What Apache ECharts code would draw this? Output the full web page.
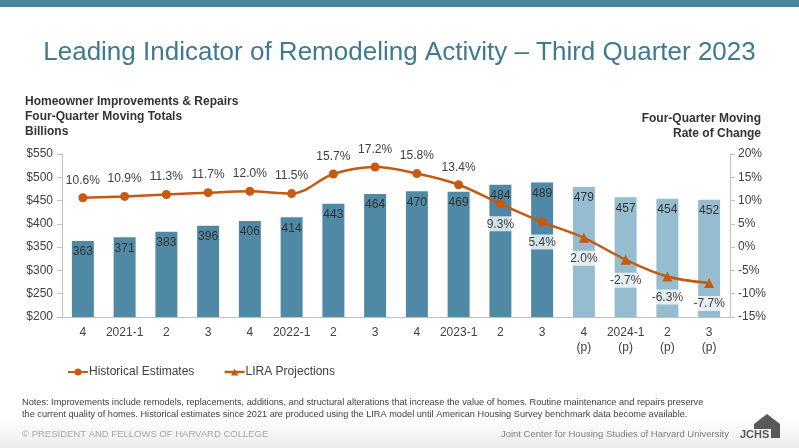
<!DOCTYPE html>
<html>
<head>
<meta charset="utf-8">
<title>Leading Indicator of Remodeling Activity</title>
<script src="https://cdn.jsdelivr.net/npm/echarts@6/dist/echarts.min.js"></script>
<style>
  html, body { margin: 0; padding: 0; background: #fff; }
  #chart { width: 799px; height: 448px; }
</style>
</head>
<body>
<div id="chart"></div>
<script>
// quarters on the x axis, (p) marks the projections
const quarters = ['4', '2021-1', '2', '3', '4', '2022-1', '2', '3', '4', '2023-1', '2', '3',
  '4\n(p)', '2024-1\n(p)', '2\n(p)', '3\n(p)'];
// four-quarter moving totals, billions
const spending = [363, 371, 383, 396, 406, 414, 443, 464, 470, 469, 484, 489, 479, 457, 454, 452];
// four-quarter moving rate of change, percent
const growth = [10.6, 10.9, 11.3, 11.7, 12.0, 11.5, 15.7, 17.2, 15.8, 13.4, 9.3, 5.4, 2.0, -2.7, -6.3, -7.7];
// first projected quarter
const firstProjection = 12;

const orange = '#c55a11';
const darkBlue = '#4f89a5';
const lightBlue = '#95bdcf';
const textColor = '#404040';
const narrow = '"Liberation Sans Narrow", "Arial Narrow", sans-serif';

const chart = echarts.init(document.getElementById('chart'));

// bars: historical in dark blue, projections lighter
const barData = spending.map((v, i) => ({
  value: v,
  itemStyle: { color: i < firstProjection ? darkBlue : lightBlue }
}));

// labels above the line early on, below it (on a white box) later
const pctLabel = (i) => i < 10
  ? { position: 'top', distance: 7 }
  : { position: 'bottom', distance: 8, backgroundColor: 'rgba(255,255,255,0.75)', padding: [2, 3, 1, 3] };

// one continuous smooth line carries the historical points
const histLine = growth.map((v, i) => ({
  value: v,
  symbolSize: i < firstProjection ? 9 : 0,
  label: Object.assign({ show: i < firstProjection }, pctLabel(i))
}));
// projections only add their triangle markers and labels
const projLine = growth.map((v, i) => i < firstProjection ? null : ({
  value: v,
  label: Object.assign({ show: true }, pctLabel(i))
}));

const option = {
  animation: false,
  backgroundColor: '#fff',
  textStyle: { fontFamily: 'Liberation Sans, Arial, sans-serif' },
  title: [
    {
      text: 'Leading Indicator of Remodeling Activity \u2013 Third Quarter 2023',
      left: 'center', top: 35,
      textStyle: { fontSize: 26, fontWeight: 'normal', color: '#3f7a92' }
    },
    {
      text: 'Homeowner Improvements & Repairs\nFour-Quarter Moving Totals\nBillions',
      left: 20, top: 89,
      textStyle: { fontSize: 12, fontWeight: 'bold', color: '#333', lineHeight: 15 }
    }
  ],
  legend: {
    left: 62, top: 361,
    itemWidth: 20, itemHeight: 9, itemGap: 29,
    textStyle: { fontSize: 12, color: textColor, padding: [0, 0, 0, -4] },
    data: [
      { name: 'Historical Estimates' },
      { name: 'LIRA Projections', lineStyle: { color: orange, width: 2.5, opacity: 1 } }
    ]
  },
  grid: { left: 62, right: 69, top: 154, bottom: 131, containLabel: false },
  xAxis: {
    type: 'category',
    data: quarters,
    axisLine: { onZero: false, lineStyle: { color: '#bfbfbf' } },
    axisTick: { lineStyle: { color: '#bfbfbf' }, length: 5 },
    axisLabel: { color: textColor, fontSize: 12, margin: 8, lineHeight: 15, interval: 0 }
  },
  yAxis: [
    {
      type: 'value', min: 200, max: 550, interval: 50,
      axisLine: { show: true, lineStyle: { color: '#bfbfbf' } },
      axisTick: { show: true, length: 5, lineStyle: { color: '#bfbfbf' } },
      splitLine: { show: false },
      axisLabel: { color: textColor, fontSize: 12, margin: 9, formatter: v => '$' + v }
    },
    {
      type: 'value', min: -15, max: 20, interval: 5,
      axisLine: { show: true, lineStyle: { color: '#bfbfbf' } },
      axisTick: { show: true, length: 5, lineStyle: { color: '#bfbfbf' } },
      splitLine: { show: false },
      axisLabel: { color: textColor, fontSize: 12, margin: 8, formatter: v => v + '%' }
    }
  ],
  series: [
    {
      name: 'Totals',
      type: 'bar',
      data: barData,
      barWidth: 22,
      label: { show: true, position: 'insideTop', distance: 5, color: '#333', fontSize: 12 },
      z: 1
    },
    {
      name: 'Historical Estimates',
      type: 'line',
      yAxisIndex: 1,
      smooth: 0.35,
      data: histLine,
      symbol: 'circle',
      symbolSize: 9,
      showAllSymbol: true,
      itemStyle: { color: orange },
      lineStyle: { color: orange, width: 2.5 },
      label: { color: textColor, fontSize: 12, formatter: p => p.value.toFixed(1) + '%' },
      z: 3
    },
    {
      name: 'LIRA Projections',
      type: 'line',
      yAxisIndex: 1,
      data: projLine,
      symbol: 'triangle',
      symbolSize: 10,
      showAllSymbol: true,
      itemStyle: { color: orange },
      lineStyle: { color: orange, width: 0, opacity: 0 },
      label: { color: textColor, fontSize: 12, formatter: p => p.value.toFixed(1) + '%' },
      z: 4
    }
  ],
  graphic: [
    { type: 'rect', shape: { x: 0, y: 0, width: 799, height: 7 }, style: { fill: '#4a86a1' }, silent: true },
    {
      type: 'rect', shape: { x: 0, y: 418, width: 799, height: 30 }, silent: true, z: -1,
      style: { fill: new echarts.graphic.LinearGradient(0, 0, 0, 1, [
        { offset: 0, color: '#ffffff' }, { offset: 1, color: '#ececec' }]) }
    },
    {
      type: 'text', x: 761, y: 111,
      style: {
        text: 'Four-Quarter Moving\nRate of Change',
        font: 'bold 12px "Liberation Sans", Arial, sans-serif',
        align: 'right', lineHeight: 15, fill: '#333'
      }
    },
    {
      type: 'text', x: 22, y: 397,
      style: {
        text: 'Notes: Improvements include remodels, replacements, additions, and structural alterations that increase the value of homes. Routine maintenance and repairs preserve\nthe current quality of homes. Historical estimates since 2021 are produced using the LIRA model until American Housing Survey benchmark data become available.',
        font: '9.2px ' + narrow, lineHeight: 11.5, fill: textColor
      }
    },
    {
      type: 'text', x: 22, y: 429,
      style: { text: '\u00a9 PRESIDENT AND FELLOWS OF HARVARD COLLEGE', font: '9.5px ' + narrow, fill: '#a6a6a6' }
    },
    {
      type: 'text', x: 729, y: 429,
      style: { text: 'Joint Center for Housing Studies of Harvard University', font: '9.5px ' + narrow, align: 'right', fill: '#7f7f7f' }
    },
    {
      // house shape of the logo, opened at the lower left for the letters
      type: 'polygon', silent: true,
      shape: { points: [[754, 424], [767, 414], [780, 424], [780, 438], [754, 438]] },
      style: { fill: '#595959' }
    },
    {
      type: 'rect', silent: true,
      shape: { x: 753, y: 429, width: 18, height: 10 },
      style: { fill: '#f4f4f4' }
    },
    {
      type: 'text', x: 740, y: 429,
      style: { text: 'JCHS', font: 'bold 11px "Liberation Sans", Arial, sans-serif', fill: '#595959' }
    }
  ]
};

chart.setOption(option);
</script>
</body>
</html>
